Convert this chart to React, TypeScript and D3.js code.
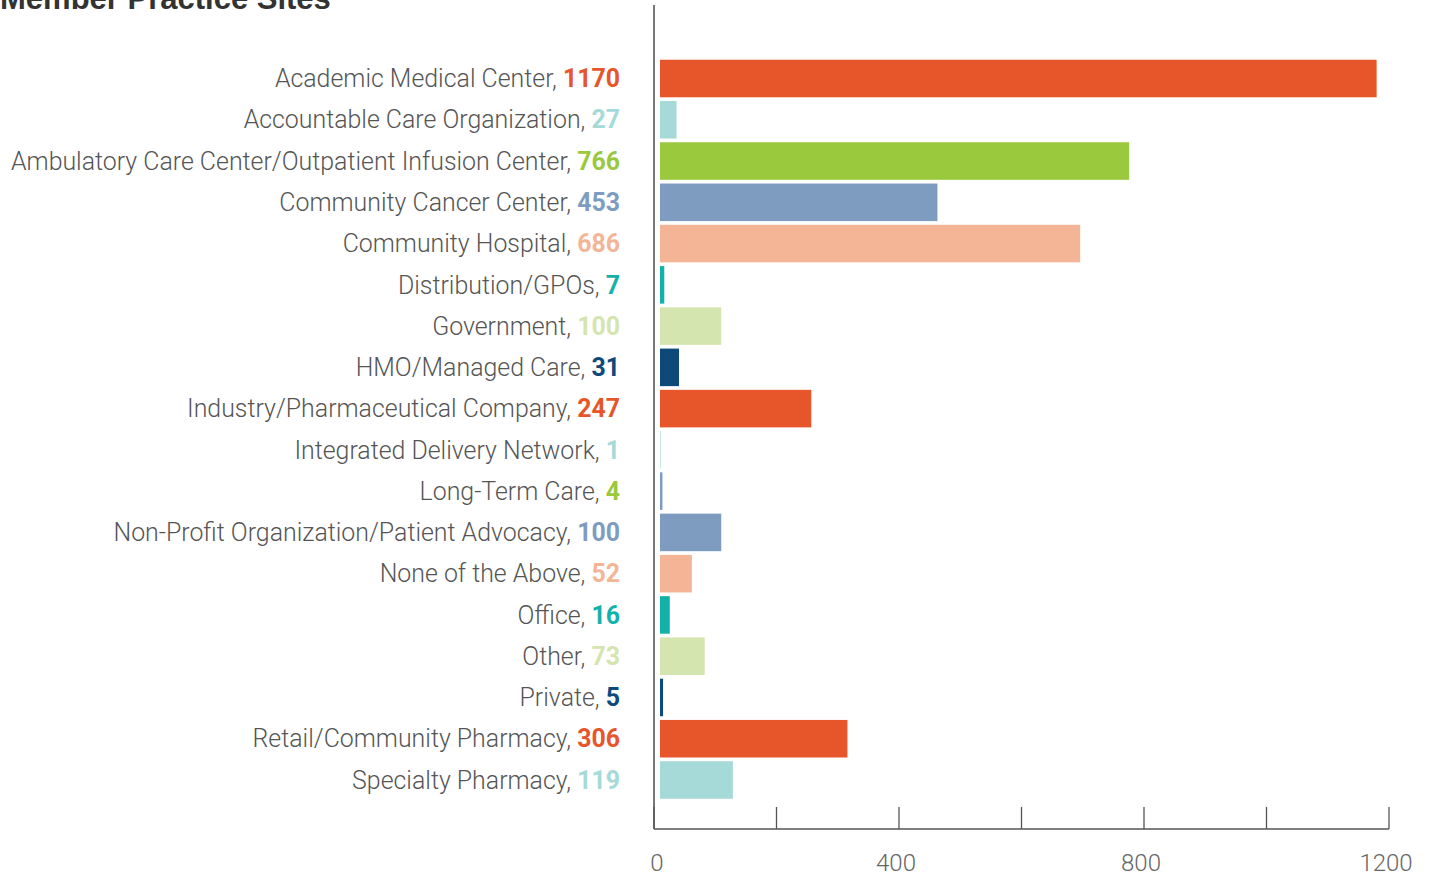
import React, { useEffect, useRef } from "react";
import * as d3 from "d3";

const categories = [
  "Academic Medical Center",
  "Accountable Care Organization",
  "Ambulatory Care Center/Outpatient Infusion Center",
  "Community Cancer Center",
  "Community Hospital",
  "Distribution/GPOs",
  "Government",
  "HMO/Managed Care",
  "Industry/Pharmaceutical Company",
  "Integrated Delivery Network",
  "Long-Term Care",
  "Non-Profit Organization/Patient Advocacy",
  "None of the Above",
  "Office",
  "Other",
  "Private",
  "Retail/Community Pharmacy",
  "Specialty Pharmacy",
];
const values = [1170, 27, 766, 453, 686, 7, 100, 31, 247, 1, 4, 100, 52, 16, 73, 5, 306, 119];
const palette = ["#e6562a", "#a6dad8", "#9bc93d", "#7e9cc0", "#f4b596", "#12b2aa", "#d5e5b0", "#0d4a7a"];
// bar colours follow the palette except Long-Term Care, which is drawn steel blue
const barColors = values.map((v, i) => (categories[i] === "Long-Term Care" ? "#7e9cc0" : palette[i % palette.length]));
const xTicks = [0, 200, 400, 600, 800, 1000, 1200];
const xTickLabels = [0, 400, 800, 1200];

export default function App() {
  const svgRef = useRef<SVGSVGElement>(null);

  useEffect(() => {
    const svg = d3.select(svgRef.current);
    svg.selectAll("*").remove();

    const W = 1432, H = 878;
    const axisX = 654;
    const barX = 660;
    const x = d3.scaleLinear().domain([0, 1200]).range([0, 735]);
    const y = d3.scaleBand<string>().domain(categories).range([58.5, 800]).paddingInner(0.09).paddingOuter(0.03);

    svg.attr("width", W).attr("height", H);

    // title (cut off at the top, as in the original)
    svg.append("text")
      .attr("x", 0).attr("y", 9)
      .attr("font-family", "Liberation Sans, Arial, sans-serif")
      .attr("font-weight", 700)
      .attr("font-size", 31)
      .attr("fill", "#333")
      .text("Member Practice Sites");

    // bars
    svg.append("g").selectAll("rect")
      .data(values)
      .join("rect")
      .attr("x", barX)
      .attr("y", (d, i) => y(categories[i])!)
      .attr("width", d => x(d))
      .attr("height", y.bandwidth())
      .attr("fill", (d, i) => barColors[i]);

    // labels
    const lab = svg.append("g").selectAll("text")
      .data(categories)
      .join("text")
      .attr("x", 620)
      .attr("y", d => y(d)! + y.bandwidth() / 2)
      .attr("dy", "0.35em")
      .attr("text-anchor", "end")
      .attr("font-family", "Roboto, sans-serif")
      .attr("font-size", 24.9);
    lab.append("tspan").attr("font-weight", 300).attr("fill", "#555").text(d => d + ", ");
    lab.append("tspan").attr("font-weight", 700)
      .attr("fill", (d, i) => palette[i % palette.length])
      .text((d, i) => values[i]);

    // vertical axis line
    svg.append("line")
      .attr("x1", axisX).attr("x2", axisX)
      .attr("y1", 5).attr("y2", 829)
      .attr("stroke", "#777").attr("stroke-width", 2);

    // bottom axis
    const ax = svg.append("g").attr("transform", `translate(${axisX},829)`);
    ax.append("line").attr("x1", 0).attr("x2", x(1200)).attr("stroke", "#555").attr("stroke-width", 1.5);
    ax.selectAll("line.tick")
      .data(xTicks)
      .join("line")
      .attr("class", "tick")
      .attr("x1", d => x(d)).attr("x2", d => x(d))
      .attr("y1", -22).attr("y2", 0)
      .attr("stroke", "#555").attr("stroke-width", 1.3);
    ax.selectAll("text")
      .data(xTickLabels)
      .join("text")
      .attr("x", d => x(d) + (d === 0 ? 3 : -3))
      .attr("y", 42)
      .attr("text-anchor", "middle")
      .attr("font-family", "Roboto, sans-serif")
      .attr("font-weight", 300)
      .attr("font-size", 24)
      .attr("fill", "#666")
      .text(d => d);
  }, []);

  return (
    <svg ref={svgRef} style={{ position: "absolute", left: 0, top: 0 }}></svg>
  );
}
